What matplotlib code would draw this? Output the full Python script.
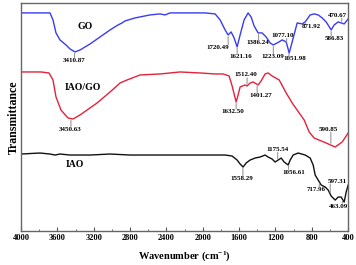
import numpy as np
import matplotlib
matplotlib.use('Agg')
import matplotlib.pyplot as plt

plt.rcParams['font.family'] = ['Liberation Serif', 'DejaVu Serif']
plt.rcParams['font.weight'] = 'bold'
plt.rcParams['mathtext.fontset'] = 'custom'
plt.rcParams['mathtext.rm'] = 'Liberation Serif:bold'
plt.rcParams['mathtext.it'] = 'Liberation Serif:bold'
plt.rcParams['mathtext.bf'] = 'Liberation Serif:bold'

# GO (blue)
go_wn = [4000, 3846, 3681, 3648, 3615, 3571, 3505, 3461, 3405, 3350, 3240, 3130,
         3020, 2932, 2888, 2855, 2745, 2580, 2470, 2415, 2360, 2139, 1974, 1864,
         1809, 1754, 1721, 1688, 1655, 1622, 1589, 1545, 1501, 1468, 1435, 1391,
         1347, 1303, 1259, 1225, 1181, 1126, 1082, 1049, 1016, 961, 906, 873,
         818, 774, 730, 686, 642, 587, 554, 510, 477, 444, 400]
go_t = [218, 218, 218, 211, 198, 191, 186, 182, 179, 181, 187, 194,
        201, 206, 208, 210, 213, 216, 217, 216, 218, 218, 218, 217,
        211, 201, 196, 199, 193, 184, 196, 211, 218, 214, 205, 198,
        198, 194, 188, 186, 188, 191, 189, 178, 189, 208, 207, 209,
        216, 217, 216, 213, 209, 201, 206, 209, 208, 207, 212]

# IAO/GO (red)
iaogo_wn = [4000, 3780, 3692, 3648, 3615, 3560, 3483, 3428, 3351, 3163, 3020, 2910,
            2833, 2690, 2470, 2250, 2030, 1864, 1809, 1776, 1710, 1677, 1633, 1611,
            1589, 1534, 1512, 1479, 1446, 1391, 1358, 1314, 1281, 1237, 1159, 1082,
            1016, 939, 884, 829, 774, 642, 543, 466, 400]
iaogo_t = [159, 159, 158, 151, 134, 121, 113, 112, 116, 128, 139, 148,
           151, 156, 157, 159, 158, 157, 157, 157, 155, 145, 129, 136,
           144, 146, 145, 148, 149, 146, 150, 157, 158, 155, 151, 138,
           128, 118, 111, 99, 93, 88, 84, 89, 98]

# IAO (black)
iao_wn = [4000, 3791, 3681, 3626, 3571, 3461, 3240, 3020, 2800, 2580, 2360, 2139,
          1919, 1754, 1677, 1622, 1589, 1556, 1523, 1479, 1424, 1369, 1314, 1281,
          1237, 1204, 1170, 1137, 1104, 1060, 1038, 1005, 950, 873, 818, 785,
          763, 730, 697, 653, 620, 587, 543, 510, 477, 444, 422, 400]
iao_t = [77, 78, 77, 76, 77, 76, 76, 77, 76, 76, 76, 76,
         76, 76, 75, 71, 67, 64, 68, 71, 73, 74, 76, 74,
         72, 69, 71, 73, 69, 66, 71, 76, 78, 76, 73, 66,
         56, 51, 46, 44, 41, 35, 31, 34, 34, 29, 39, 46]

# peak labels: (wavenumber, text offset in px)
go_peaks = [(3410.87, (0, -9)), (1720.49, (-10, -13)), (1621.16, (4, -10)),
            (1386.24, (-1, -10)), (1223.09, (-1, -12)), (1077.10, (-4, 8)),
            (1051.98, (6, -7)), (871.92, (6, -5)), (586.83, (3, -9)),
            (470.67, (-4, 8))]
iaogo_peaks = [(3450.63, (-1, -11)), (1632.50, (-3, -10)), (1512.40, (-1, 11)),
               (1401.27, (4, -11)), (590.85, (-2, 16))]
iao_peaks = [(1558.29, (-1, -12)), (1175.54, (0, 11)), (1056.61, (5, -8)),
             (717.96, (-3, -8)), (597.31, (7, 13)), (463.09, (-4, -7))]

fig = plt.figure(figsize=(3.56, 2.65), dpi=100)
ax = fig.add_axes([0.059, 0.128, 0.919, 0.861])

series = [(go_wn, go_t, '#3a3cf0', go_peaks),
          (iaogo_wn, iaogo_t, '#e3223c', iaogo_peaks),
          (iao_wn, iao_t, '#111111', iao_peaks)]

for wn, t, col, peaks in series:
    ax.plot(wn, t, color=col, lw=1.0)
    wn_r = np.array(wn)[::-1]
    t_r = np.array(t)[::-1]
    for p, off in peaks:
        y = np.interp(p, wn_r, t_r)
        ax.annotate('%.2f' % p, xy=(p, y), xytext=off, textcoords='offset pixels',
                    ha='center', va='center', fontsize=5, fontweight='bold')
        # little grey marker between curve and label
        sign = 1 if off[1] > 0 else -1
        ax.annotate('', xy=(p, y), xytext=(0, sign * (abs(off[1]) - 3)),
                    textcoords='offset pixels',
                    arrowprops=dict(arrowstyle='-', color='#999999', lw=0.8,
                                    shrinkA=0, shrinkB=1.2))

ax.text(3295, 204, 'GO', fontsize=7, fontweight='bold', ha='center', va='center')
ax.text(3317, 143, 'IAO/GO', fontsize=7, fontweight='bold', ha='center', va='center')
ax.text(3405, 67, 'IAO', fontsize=7, fontweight='bold', ha='center', va='center')

ax.set_xlim(4000, 400)
ax.set_ylim(0, 228)
ax.set_xticks(np.arange(4000, 399, -400))
ax.set_xticks(np.arange(3800, 400, -400), minor=True)
ax.set_yticks([])
ax.tick_params(axis='x', which='major', direction='in', length=3, width=0.8,
               labelsize=6, pad=2, color='#555555')
ax.tick_params(axis='x', which='minor', direction='in', length=1.5, width=0.6,
               color='#555555')
for lbl in ax.get_xticklabels():
    lbl.set_fontweight('bold')
for s in ax.spines.values():
    s.set_color('#666666')
    s.set_linewidth(1.0)

ax.set_xlabel(r'Wavenumber (cm$^{-1}$)', fontsize=7.5, fontweight='bold', labelpad=5)
ax.set_ylabel('Transmittance', fontsize=8.6, fontweight='bold', labelpad=1)

fig.savefig('out.png', dpi=100)
